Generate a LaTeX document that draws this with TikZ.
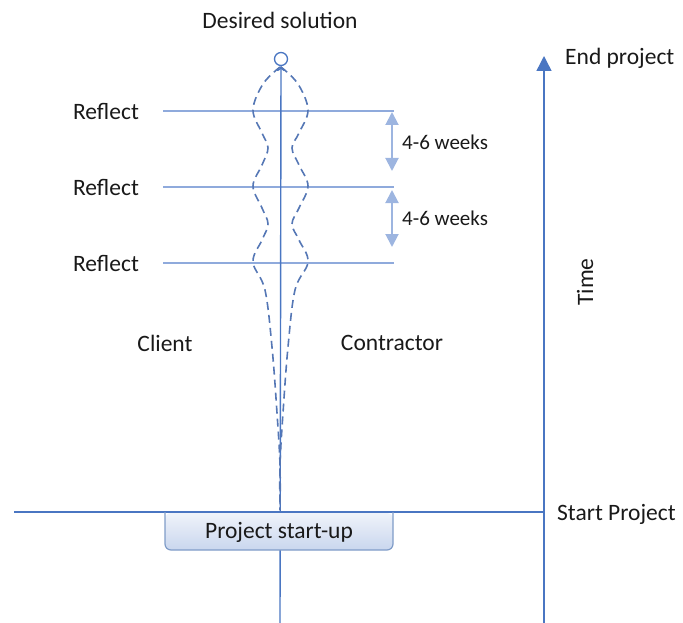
\documentclass[tikz,border=0pt]{standalone}
\usepackage{fontspec}
\setmainfont{Carlito}
\usetikzlibrary{arrows.meta}
\definecolor{mainblue}{HTML}{4A76C2}
\definecolor{lightline}{HTML}{8FAADC}
\definecolor{arrowblue}{HTML}{9DB5E0}
\definecolor{dashblue}{HTML}{5577B5}
\definecolor{boxborder}{HTML}{7F9CC8}
\begin{document}
\begin{tikzpicture}[x=1pt,y=-1pt,
  every node/.style={font=\fontsize{23.5}{28}\selectfont, text=black!90, inner sep=0pt},
  smalltxt/.style={font=\fontsize{21}{25}\selectfont},
  mainline/.style={draw=mainblue, line width=1.4pt},
  reflectline/.style={draw=lightline, line width=1.4pt},
  wavy/.style={draw=dashblue, line width=1.6pt, dash pattern=on 8pt off 5pt},
  span/.style={draw=arrowblue, line width=2pt, {Triangle[width=13pt,length=13pt]}-{Triangle[width=13pt,length=13pt]}}]
\useasboundingbox (0,0) rectangle (683,623);

% labels
\node (desired) at (280,20) {Desired solution};
\node[anchor=west] (endp) at (565,58) {End project};
\node[anchor=west] (startp) at (557,514) {Start Project};
\node[rotate=90] (time) at (585,282) {Time};
\node (r1) at (106,111) {Reflect};
\node (r2) at (106,187) {Reflect};
\node (r3) at (106,263) {Reflect};
\node (client) at (165,343) {Client};
\node (contr) at (392,343) {Contractor};
\node[smalltxt, anchor=west] (w1) at (402,142) {4-6 weeks};
\node[smalltxt, anchor=west] (w2) at (402,218) {4-6 weeks};

% reflect lines
\coordinate (l1a) at (163,111); \coordinate (l1b) at (394,111);
\coordinate (l2a) at (163,187); \coordinate (l2b) at (394,187);
\coordinate (l3a) at (163,263); \coordinate (l3b) at (394,263);
\draw[reflectline] (l1a) -- (l1b);
\draw[reflectline] (l2a) -- (l2b);
\draw[reflectline] (l3a) -- (l3b);

% span arrows
\coordinate (s1a) at (392,112); \coordinate (s1b) at (392,171);
\coordinate (s2a) at (392,190); \coordinate (s2b) at (392,247);
\draw[span] (s1a) -- (s1b);
\draw[span] (s2a) -- (s2b);

% baseline and time axis
\coordinate (hl) at (14,512); \coordinate (hr) at (544,512);
\draw[mainline] (hl) -- (hr);
\coordinate (tbot) at (544,623); \coordinate (ttop) at (544,56);
\draw[mainline, -{Triangle[width=15pt,length=15pt]}] (tbot) -- (ttop);

% desired solution circle and center line
\node[draw=mainblue, line width=1.3pt, circle, minimum size=13pt] (goal) at (281,59) {};
\coordinate (cbot) at (280,623);
\draw[mainline, -{To[length=5pt,width=8pt]}] (cbot) -- (goal.south);

% wavy dashed curves
\draw[wavy] plot[smooth, tension=0.6] coordinates {(280,67) (263,84) (253,110) (262,133) (268,148) (262,165) (253,186) (262,208) (268,224) (262,240) (253,262) (265,290) (272,347) (277,413) (280,465) (280,510)};
\draw[wavy] plot[smooth, tension=0.6] coordinates {(281,67) (298,84) (308,110) (299,133) (292,148) (299,165) (308,186) (299,208) (292,224) (299,240) (308,262) (295,290) (288,347) (283,413) (280,465) (280,510)};

% start-up box (drawn over the center line)
\shade[top color=white!60!arrowblue!40, bottom color=arrowblue!55, rounded corners=6pt]
  (165,513) -- (165,550) -- (393,550) -- (393,513) -- cycle;
\draw[boxborder, line width=1.2pt, rounded corners=6pt] (165,512) -- (165,550) -- (393,550) -- (393,512);
\node (box) at (279,532) {Project start-up};
\end{tikzpicture}
\end{document}
